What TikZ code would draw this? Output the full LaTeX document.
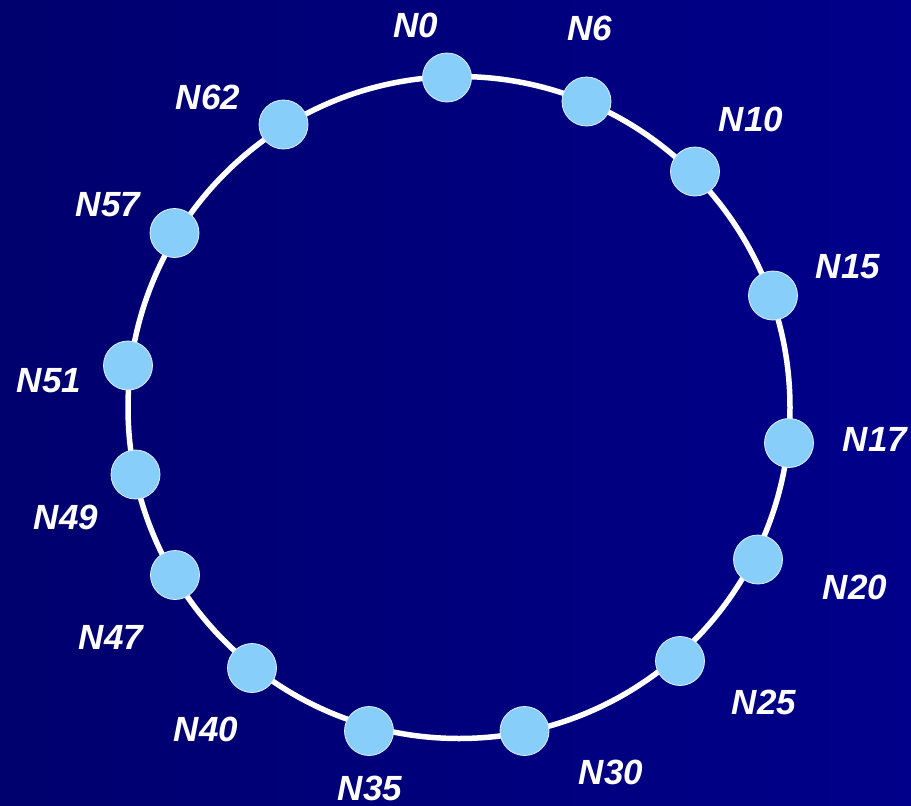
\documentclass[tikz,border=0pt]{standalone}
\usepackage{fontspec}
\setmainfont{Liberation Sans}
\begin{document}
\begin{tikzpicture}[x=1pt,y=-1pt,
  peer/.style={circle, fill={rgb,255:red,135;green,206;blue,250}, draw={rgb,255:red,225;green,240;blue,255}, line width=0.8pt, minimum size=49pt, inner sep=0pt},
  lbl/.style={text=white, inner sep=0pt, font=\fontsize{35}{40}\selectfont\bfseries\itshape},
  ring/.style={draw=white, line width=5.5pt}]
\shade[left color={rgb,255:red,0;green,0;blue,110}, right color={rgb,255:red,0;green,0;blue,138}] (0,0) rectangle (911,806);
\useasboundingbox (0,0) rectangle (911,806);
\coordinate (c) at (459,407.5);
\draw[ring] (c) circle[radius=331pt];
\node[peer] (n0) at (447,77.5) {};
\node[peer] (n6) at (586.5,101.5) {};
\node[peer] (n10) at (695,171.5) {};
\node[peer] (n15) at (773,295.5) {};
\node[peer] (n17) at (789,443) {};
\node[peer] (n20) at (758,559.5) {};
\node[peer] (n25) at (680,661) {};
\node[peer] (n30) at (524.5,731) {};
\node[peer] (n35) at (369,731) {};
\node[peer] (n40) at (252,668) {};
\node[peer] (n47) at (175,575) {};
\node[peer] (n49) at (135.5,474.5) {};
\node[peer] (n51) at (128,365.5) {};
\node[peer] (n57) at (174.5,233) {};
\node[peer] (n62) at (283.5,124.5) {};
\node[lbl] (l0) at (416,25) {N0};
\node[lbl] (l6) at (590,28) {N6};
\node[lbl] (l10) at (751,119) {N10};
\node[lbl] (l15) at (848,267) {N15};
\node[lbl] (l17) at (875,439) {N17};
\node[lbl] (l20) at (855,587) {N20};
\node[lbl] (l25) at (764,702) {N25};
\node[lbl] (l30) at (611,772) {N30};
\node[lbl] (l35) at (370,788) {N35};
\node[lbl] (l40) at (206,729) {N40};
\node[lbl] (l47) at (111,637) {N47};
\node[lbl] (l49) at (66,517) {N49};
\node[lbl] (l51) at (49,381) {N51};
\node[lbl] (l57) at (108,205) {N57};
\node[lbl] (l62) at (208,97) {N62};
\end{tikzpicture}
\end{document}
